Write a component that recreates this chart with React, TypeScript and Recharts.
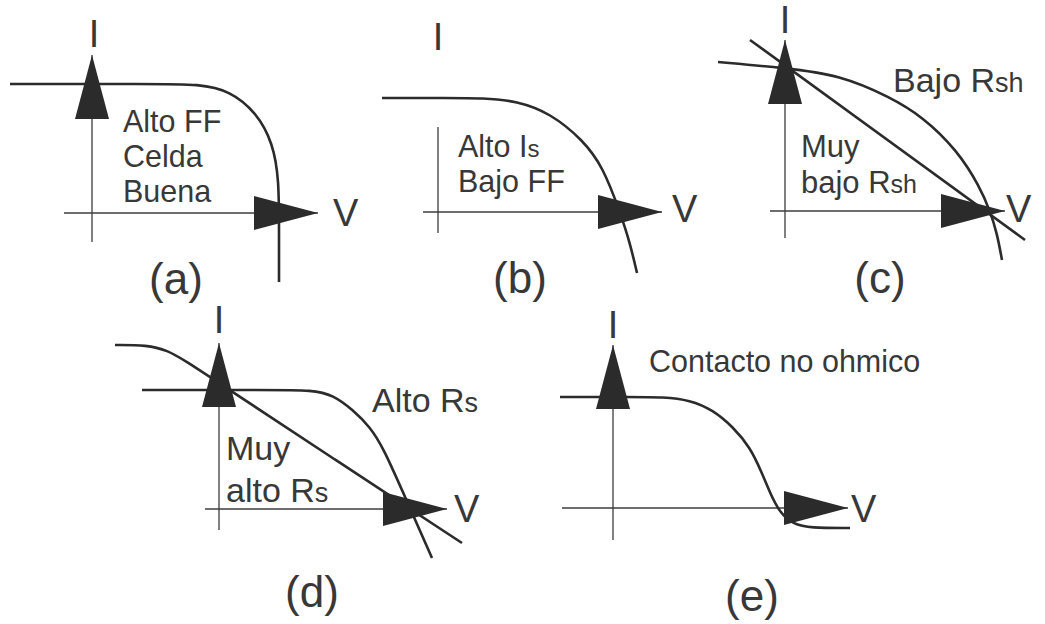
import React from 'react';
import { LineChart, Line, XAxis, YAxis, ReferenceLine, ReferenceDot } from 'recharts';

// every panel uses the same scale: 1 unit of V or I = 10 px
const UNIT = 10;
const INK = '#2b2b2b';
const AXIS = '#3c3c3c';
const TEXT = '#383838';
const FONT = '"Liberation Sans", Arial, sans-serif';

type Pt = { v: number; i: number };

// (a) high fill factor, good cell
const goodCell: Pt[] = [
  { v: -8.2, i: 12.9 }, { v: 5.8, i: 12.9 }, { v: 10.8, i: 12.9 }, { v: 13.8, i: 12.2 },
  { v: 16.4, i: 10.1 }, { v: 18.1, i: 7.0 }, { v: 18.7, i: 3.3 }, { v: 18.7, i: -1.7 },
  { v: 18.7, i: -6.9 },
];

// (b) high saturation current, low fill factor
const highIs: Pt[] = [
  { v: -5.6, i: 11.4 }, { v: 1.0, i: 11.4 }, { v: 4.5, i: 11.4 }, { v: 7.9, i: 11.1 },
  { v: 11.2, i: 9.9 }, { v: 14.5, i: 7.2 }, { v: 16.5, i: 4.5 }, { v: 18.2, i: 0 },
  { v: 19.2, i: -3.1 }, { v: 19.9, i: -6.1 },
];

// (c) low and very low shunt resistance
const lowRsh: Pt[] = [
  { v: -6.7, i: 14.9 }, { v: 0, i: 14.3 }, { v: 5.5, i: 13.6 }, { v: 10.5, i: 11.4 },
  { v: 13.8, i: 9.4 }, { v: 17.2, i: 6.1 }, { v: 19.5, i: 2.4 }, { v: 20.5, i: 0 },
  { v: 21.2, i: -2.2 }, { v: 21.7, i: -4.9 },
];
const veryLowRsh: Pt[] = [
  { v: -3.5, i: 17.1 }, { v: 24.0, i: -2.9 },
];

// (d) high and very high series resistance
const highRs: Pt[] = [
  { v: -7.7, i: 11.9 }, { v: 5.0, i: 11.9 }, { v: 9.4, i: 11.9 }, { v: 11.4, i: 11.4 },
  { v: 13.4, i: 9.9 }, { v: 15.1, i: 8.2 }, { v: 16.4, i: 6.2 }, { v: 18.85, i: 0.65 },
  { v: 21.3, i: -4.9 },
];
const veryHighRs: Pt[] = [
  { v: -10.4, i: 16.4 }, { v: -7.2, i: 16.4 }, { v: -5.2, i: 15.9 }, { v: -3.2, i: 14.7 },
  { v: -1.2, i: 13.4 }, { v: 11.5, i: 5.0 }, { v: 24.3, i: -3.4 },
];

// (e) non-ohmic contact
const nonOhmic: Pt[] = [
  { v: -5.3, i: 11.1 }, { v: 2.0, i: 11.1 }, { v: 5.0, i: 11.1 }, { v: 7.7, i: 10.8 },
  { v: 10.0, i: 9.8 }, { v: 12.0, i: 8.1 }, { v: 13.7, i: 6.1 }, { v: 14.9, i: 3.5 },
  { v: 15.7, i: 1.5 }, { v: 16.7, i: -0.5 }, { v: 18.0, i: -1.6 }, { v: 19.7, i: -2.0 },
  { v: 23.7, i: -2.0 },
];

type Seg = { t: string; sub?: boolean };
type Note = { v: number; i: number; parts: Seg[]; size: number; anchor?: 'start' | 'middle' };
type Curve = { data: Pt[]; type: 'basis' | 'linear' };
type PanelDef = {
  key: string;
  box: { left: number; top: number; width: number; height: number };
  origin: { x: number; y: number };
  vAxis: [number, number];
  iAxis: [number, number];
  iArrow: boolean;
  curves: Curve[];
  notes: Note[];
};

const txt = (t: string): Seg[] => [{ t }];

const PANELS: PanelDef[] = [
  {
    key: 'a',
    box: { left: 0, top: 0, width: 360, height: 310 },
    origin: { x: 92, y: 213 },
    vAxis: [-2.8, 22.6],
    iAxis: [-2.9, 15.8],
    iArrow: true,
    curves: [{ data: goodCell, type: 'basis' }],
    notes: [
      { v: 0.2, i: 16.6, parts: txt('I'), size: 38, anchor: 'middle' },
      { v: 24.1, i: -1.3, parts: txt('V'), size: 38 },
      { v: 3.1, i: 8.1, parts: txt('Alto FF'), size: 30.5 },
      { v: 3.1, i: 4.6, parts: txt('Celda'), size: 30.5 },
      { v: 3.1, i: 1.1, parts: txt('Buena'), size: 30.5 },
      { v: 8.4, i: -8.1, parts: txt('(a)'), size: 44, anchor: 'middle' },
    ],
  },
  {
    key: 'b',
    box: { left: 360, top: 0, width: 350, height: 310 },
    origin: { x: 438, y: 212 },
    vAxis: [-1.5, 22.4],
    iAxis: [-2.1, 8.5],
    iArrow: false,
    curves: [{ data: highIs, type: 'basis' }],
    notes: [
      { v: 0, i: 16.2, parts: txt('I'), size: 38, anchor: 'middle' },
      { v: 23.4, i: -1.0, parts: txt('V'), size: 38 },
      { v: 2.0, i: 5.5, parts: [{ t: 'Alto I' }, { t: 's', sub: true }], size: 30.5 },
      { v: 2.0, i: 2.0, parts: txt('Bajo FF'), size: 30.5 },
      { v: 8.2, i: -8.1, parts: txt('(b)'), size: 44, anchor: 'middle' },
    ],
  },
  {
    key: 'c',
    box: { left: 690, top: 0, width: 355, height: 310 },
    origin: { x: 785, y: 211 },
    vAxis: [-1.5, 22.0],
    iAxis: [-2.7, 17.1],
    iArrow: true,
    curves: [
      { data: lowRsh, type: 'basis' },
      { data: veryLowRsh, type: 'linear' },
    ],
    notes: [
      { v: 0, i: 17.8, parts: txt('I'), size: 38, anchor: 'middle' },
      { v: 22.1, i: -1.1, parts: txt('V'), size: 38 },
      { v: 10.8, i: 11.9, parts: [{ t: 'Bajo R' }, { t: 'sh', sub: true }], size: 34 },
      { v: 1.6, i: 5.4, parts: txt('Muy'), size: 31 },
      { v: 1.6, i: 1.8, parts: [{ t: 'bajo R' }, { t: 'sh', sub: true }], size: 31 },
      { v: 9.5, i: -8.2, parts: txt('(c)'), size: 44, anchor: 'middle' },
    ],
  },
  {
    key: 'd',
    box: { left: 90, top: 295, width: 430, height: 329 },
    origin: { x: 219, y: 509 },
    vAxis: [-1.4, 22.8],
    iAxis: [-2.1, 16.6],
    iArrow: true,
    curves: [
      { data: highRs, type: 'basis' },
      { data: veryHighRs, type: 'basis' },
    ],
    notes: [
      { v: 0, i: 17.6, parts: txt('I'), size: 38, anchor: 'middle' },
      { v: 23.5, i: -1.3, parts: txt('V'), size: 38 },
      { v: 15.3, i: 9.7, parts: [{ t: 'Alto R' }, { t: 's', sub: true }], size: 34 },
      { v: 0.7, i: 4.9, parts: txt('Muy'), size: 34 },
      { v: 0.7, i: 0.7, parts: [{ t: 'alto R' }, { t: 's', sub: true }], size: 34 },
      { v: 9.3, i: -9.8, parts: txt('(d)'), size: 44, anchor: 'middle' },
    ],
  },
  {
    key: 'e',
    box: { left: 530, top: 295, width: 400, height: 329 },
    origin: { x: 613, y: 508 },
    vAxis: [-5.1, 23.5],
    iAxis: [-3.2, 16.3],
    iArrow: true,
    curves: [{ data: nonOhmic, type: 'basis' }],
    notes: [
      { v: 0, i: 17.0, parts: txt('I'), size: 38, anchor: 'middle' },
      { v: 23.8, i: -1.4, parts: txt('V'), size: 38 },
      { v: 3.6, i: 13.6, parts: txt('Contacto no ohmico'), size: 30.5 },
      { v: 13.9, i: -10.3, parts: txt('(e)'), size: 44, anchor: 'middle' },
    ],
  },
];

function ArrowHead({ cx, cy, dir }: { cx: number; cy: number; dir: 'up' | 'right' }) {
  const len = 64;
  const half = 17;
  const pts =
    dir === 'up'
      ? `${cx},${cy} ${cx - half},${cy + len} ${cx + half},${cy + len}`
      : `${cx},${cy} ${cx - len},${cy - half} ${cx - len},${cy + half}`;
  return <polygon points={pts} fill={INK} />;
}

function NoteText({ cx, cy, note }: { cx: number; cy: number; note: Note }) {
  return (
    <text
      x={cx}
      y={cy}
      fontFamily={FONT}
      fontSize={note.size}
      fill={TEXT}
      textAnchor={note.anchor ?? 'start'}
    >
      {note.parts.map((p, k) => (
        <tspan key={k} fontSize={p.sub ? Math.round(note.size * 0.8) : note.size}>
          {p.t}
        </tspan>
      ))}
    </text>
  );
}

function Panel({ def }: { def: PanelDef }) {
  const { box, origin } = def;
  const xDomain = [(box.left - origin.x) / UNIT, (box.left + box.width - origin.x) / UNIT];
  const yDomain = [(origin.y - box.top - box.height) / UNIT, (origin.y - box.top) / UNIT];

  return (
    <div style={{ position: 'absolute', left: box.left, top: box.top }}>
      <LineChart width={box.width} height={box.height} margin={{ top: 0, right: 0, bottom: 0, left: 0 }}>
        <XAxis type="number" dataKey="v" domain={xDomain} hide allowDataOverflow />
        <YAxis type="number" dataKey="i" domain={yDomain} hide allowDataOverflow />

        {/* V and I axes */}
        <ReferenceLine
          segment={[{ x: def.vAxis[0], y: 0 }, { x: def.vAxis[1], y: 0 }]}
          stroke={AXIS}
          strokeWidth={1.3}
        />
        <ReferenceLine
          segment={[{ x: 0, y: def.iAxis[0] }, { x: 0, y: def.iAxis[1] }]}
          stroke={AXIS}
          strokeWidth={1.3}
        />

        {def.curves.map((c, k) => (
          <Line
            key={k}
            data={c.data}
            dataKey="i"
            type={c.type}
            stroke={INK}
            strokeWidth={2.6}
            dot={false}
            activeDot={false}
            isAnimationActive={false}
          />
        ))}

        <ReferenceDot
          x={def.vAxis[1]}
          y={0}
          shape={(p: any) => <ArrowHead cx={p.cx} cy={p.cy} dir="right" />}
        />
        {def.iArrow && (
          <ReferenceDot
            x={0}
            y={def.iAxis[1]}
            shape={(p: any) => <ArrowHead cx={p.cx} cy={p.cy} dir="up" />}
          />
        )}

        {def.notes.map((n, k) => (
          <ReferenceDot
            key={`n${k}`}
            x={n.v}
            y={n.i}
            shape={(p: any) => <NoteText cx={p.cx} cy={p.cy} note={n} />}
          />
        ))}
      </LineChart>
    </div>
  );
}

export default function App() {
  return (
    <div
      style={{
        position: 'absolute',
        left: 0,
        top: 0,
        width: 1045,
        height: 624,
        background: '#fff',
        overflow: 'hidden',
      }}
    >
      {PANELS.map((p) => (
        <Panel key={p.key} def={p} />
      ))}
    </div>
  );
}
